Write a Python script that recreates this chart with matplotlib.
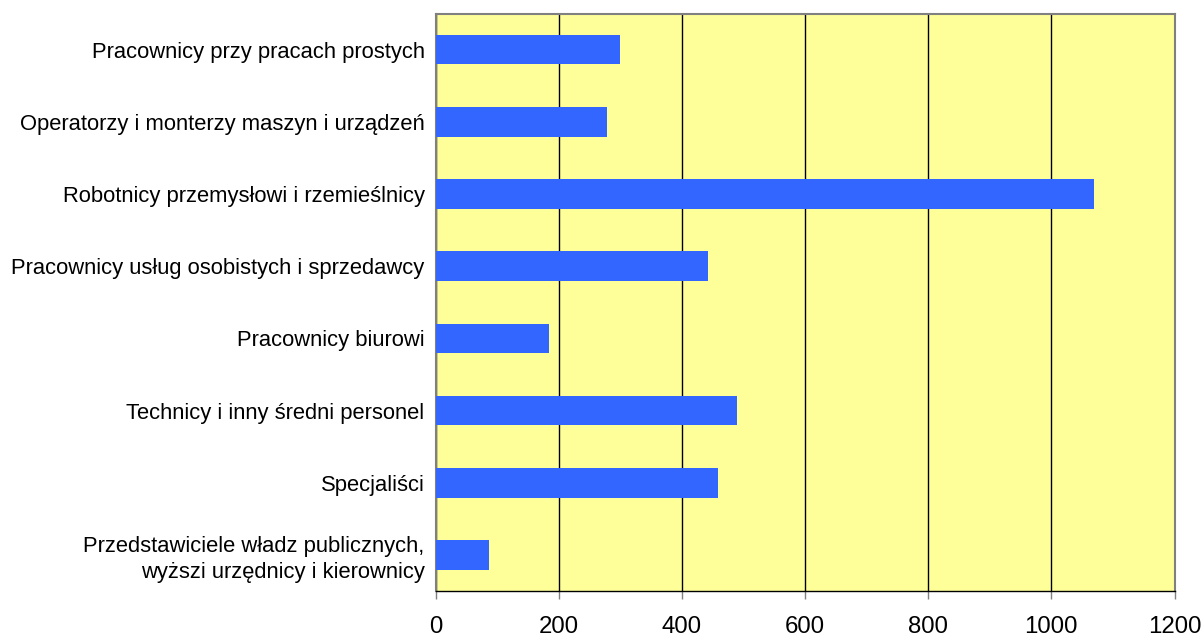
from matplotlib import pyplot as plt
import numpy as np

plt.rcParams['font.family'] = ['Liberation Sans', 'DejaVu Sans']

# categories from bottom to top
categories = ['Przedstawiciele władz publicznych,\nwyższi urzędnicy i kierownicy',
              'Specjaliści',
              'Technicy i inny średni personel',
              'Pracownicy biurowi',
              'Pracownicy usług osobistych i sprzedawcy',
              'Robotnicy przemysłowi i rzemieślnicy',
              'Operatorzy i monterzy maszyn i urządzeń',
              'Pracownicy przy pracach prostych']
values = [86, 458, 490, 184, 443, 1070, 278, 299]
xticks = [0, 200, 400, 600, 800, 1000, 1200]

fig = plt.figure(figsize=(12.04, 6.36), dpi=100)
ax = fig.add_axes([435.7/1204, 1 - 591/636, (1174.5-435.7)/1204, (591-13.5)/636])
ax.set_facecolor('#FFFF99')

y = np.arange(len(categories))
ax.barh(y, values, height=0.41, color='#3366FF', zorder=3)

ax.set_xlim(0, 1200)
ax.set_ylim(-0.5, len(categories) - 0.5)
ax.set_xticks(xticks)
ax.set_xticklabels([str(t) for t in xticks], fontsize=17.3)
ax.set_yticks(y)
ax.set_yticklabels(categories, fontsize=15.8, linespacing=1.3)
ax.tick_params(axis='y', length=0, pad=8)
ax.tick_params(axis='x', length=6, width=1, color='#808080', pad=12)

ax.grid(axis='x', color='black', linewidth=1, zorder=1)
for s in ['top', 'left', 'right']:
    ax.spines[s].set_color('#808080')
    ax.spines[s].set_linewidth(1.5)
ax.spines['bottom'].set_color('black')
ax.spines['bottom'].set_linewidth(1)

fig.savefig('out.png', dpi=100)
